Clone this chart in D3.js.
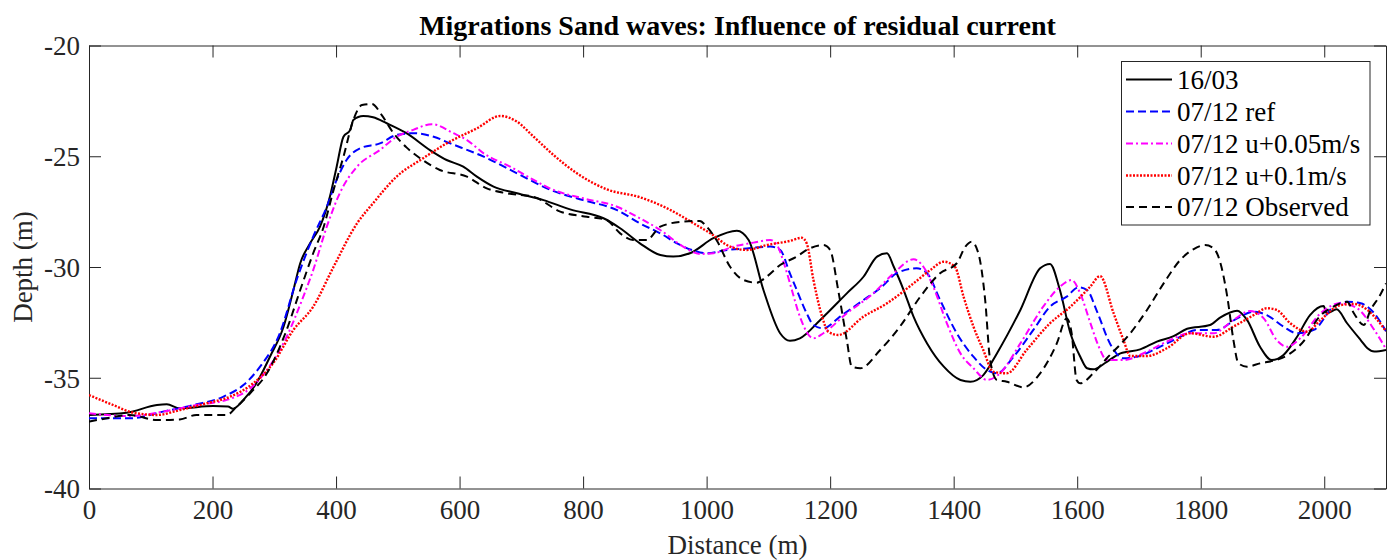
<!DOCTYPE html>
<html><head><meta charset="utf-8">
<script src="https://cdn.jsdelivr.net/npm/d3@7"></script>
<style>
html,body{margin:0;padding:0;background:#fff;}
svg text{font-family:"Liberation Serif","Times New Roman",serif;}
</style></head>
<body><svg id="chart" width="1392" height="560"></svg>
<script>
const titleText = "Migrations Sand waves: Influence of residual current";
const xTicks = [0,200,400,600,800,1000,1200,1400,1600,1800,2000];
const yTicks = [-40,-35,-30,-25,-20];
const seriesNames = ["16/03","07/12 ref","07/12 u+0.05m/s","07/12 u+0.1m/s","07/12 Observed"];

const dist1603 = [0,61,110,126,147,201,225,233,250,271,293,315,331,342,358,374,390,401,412,423,428,444,460,482,514,552,579,606,628,655,693,736,779,833,860,892,925,946,973,1011,1049,1068,1092,1119,1135,1151,1184,1227,1254,1276,1292,1303,1319,1335,1357,1384,1411,1427,1448,1470,1508,1540,1556,1572,1589,1605,1616,1626,1648,1670,1702,1729,1756,1778,1815,1832,1859,1875,1896,1915,1934,1956,1977,1999,2004,2020,2037,2059,2070,2081,2100];
const depth1603 = [-36.68,-36.58,-36.23,-36.2,-36.38,-36.28,-36.3,-36.4,-36.0,-35.25,-34.05,-32.7,-31.04,-29.83,-28.93,-28.18,-26.83,-25.47,-24.12,-23.81,-23.36,-23.18,-23.24,-23.51,-23.96,-24.72,-25.17,-25.47,-25.92,-26.37,-26.67,-26.98,-27.4,-27.8,-28.25,-28.93,-29.46,-29.53,-29.38,-28.7,-28.36,-28.78,-31.04,-32.99,-33.33,-33.22,-32.39,-31.19,-30.44,-29.53,-29.38,-29.99,-31.04,-32.24,-33.45,-34.5,-35.1,-35.18,-34.88,-33.9,-31.94,-30.06,-29.86,-31.04,-32.99,-34.05,-34.57,-34.62,-34.28,-33.9,-33.72,-33.37,-33.12,-32.79,-32.62,-32.27,-31.97,-32.39,-33.6,-34.2,-33.97,-33.15,-32.17,-31.76,-32.09,-31.91,-32.54,-33.3,-33.67,-33.82,-33.75];

const distRef = [0,66,120,169,217,250,277,309,336,363,385,401,417,439,471,498,525,558,585,639,693,747,800,855,892,925,952,979,1000,1033,1065,1103,1119,1135,1146,1162,1173,1189,1216,1254,1281,1308,1340,1357,1378,1405,1432,1454,1470,1497,1529,1556,1583,1602,1616,1632,1653,1675,1697,1729,1762,1794,1826,1859,1886,1907,1934,1956,1983,2015,2037,2059,2081,2100];
const depthRef = [-36.83,-36.83,-36.53,-36.23,-35.86,-35.33,-34.5,-32.99,-30.59,-28.63,-27.28,-26.07,-25.17,-24.64,-24.42,-24.04,-23.96,-24.12,-24.42,-25.02,-25.77,-26.52,-26.98,-27.43,-28.03,-28.48,-28.93,-29.26,-29.38,-29.23,-29.16,-29.08,-29.23,-30.3,-31.04,-32.09,-32.62,-32.77,-32.24,-31.49,-30.96,-30.28,-30.06,-30.28,-31.49,-32.99,-34.05,-34.65,-34.8,-34.05,-32.84,-31.79,-31.34,-30.92,-31.04,-32.0,-33.45,-34.12,-34.05,-33.67,-33.22,-32.84,-32.84,-32.32,-32.02,-32.17,-32.69,-32.99,-32.84,-31.79,-31.57,-31.64,-32.09,-32.9];

const distU005 = [0,66,120,174,223,261,288,320,347,363,385,406,434,471,498,525,555,590,612,639,682,720,752,800,855,892,925,962,989,1011,1043,1076,1103,1114,1127,1138,1151,1173,1189,1227,1270,1303,1335,1351,1367,1389,1411,1432,1454,1475,1508,1545,1572,1591,1605,1621,1635,1648,1675,1713,1745,1783,1821,1853,1880,1902,1923,1940,1961,1994,2026,2053,2081,2100];
const depthU005 = [-36.6,-36.73,-36.53,-36.23,-36.0,-35.48,-34.65,-33.15,-31.34,-30.14,-28.18,-26.67,-25.47,-24.72,-24.12,-23.81,-23.55,-23.96,-24.27,-24.87,-25.47,-26.07,-26.52,-26.9,-27.28,-27.8,-28.33,-29.08,-29.41,-29.38,-29.08,-28.9,-28.78,-29.01,-29.99,-31.04,-32.24,-33.22,-32.99,-32.09,-31.19,-30.28,-29.65,-29.99,-30.89,-32.54,-33.9,-34.57,-35.1,-34.8,-33.45,-31.79,-30.89,-30.59,-31.2,-32.5,-33.6,-34.2,-34.2,-33.82,-33.37,-32.99,-32.99,-32.39,-31.99,-32.32,-33.3,-33.6,-33.22,-32.09,-31.64,-31.86,-32.84,-33.7];

const distU01 = [0,39,72,110,147,191,228,266,298,331,363,396,434,460,498,541,579,628,666,693,720,752,790,838,892,936,979,1006,1038,1065,1097,1135,1154,1162,1173,1187,1197,1213,1254,1292,1335,1362,1384,1402,1416,1432,1448,1464,1486,1518,1556,1589,1621,1637,1659,1675,1686,1713,1745,1783,1821,1853,1886,1907,1923,1945,1972,1994,2026,2048,2070,2086,2100];
const depthU01 = [-35.78,-36.23,-36.58,-36.68,-36.46,-36.15,-35.86,-35.25,-34.35,-32.84,-31.79,-29.99,-28.03,-27.12,-25.92,-25.09,-24.42,-23.74,-23.18,-23.44,-24.12,-24.94,-25.77,-26.49,-26.85,-27.35,-28.03,-28.48,-29.08,-29.23,-29.01,-28.82,-28.68,-28.93,-30.59,-32.24,-32.92,-33.07,-32.24,-31.64,-30.74,-30.14,-29.76,-29.99,-31.34,-32.69,-33.75,-34.73,-34.8,-33.75,-32.54,-31.79,-30.89,-30.41,-32.09,-33.3,-34.02,-34.02,-33.67,-32.99,-33.15,-32.69,-32.17,-31.86,-31.94,-32.54,-32.92,-32.39,-31.72,-31.67,-31.94,-32.39,-32.9];

const distObs = [0,29,66,110,147,174,223,239,261,288,320,342,363,380,396,412,428,442,458,474,493,514,536,568,612,644,676,720,763,806,838,860,881,903,925,962,989,1000,1016,1038,1060,1081,1097,1119,1146,1162,1189,1200,1213,1227,1235,1249,1281,1313,1346,1378,1405,1419,1429,1440,1451,1459,1470,1486,1513,1540,1567,1583,1591,1599,1605,1626,1648,1686,1713,1740,1767,1788,1807,1821,1832,1843,1853,1861,1875,1896,1918,1945,1972,1988,2015,2037,2048,2064,2075,2089,2100];
const depthObs = [-36.98,-36.83,-36.68,-36.91,-36.88,-36.68,-36.68,-36.31,-35.7,-34.8,-32.84,-31.04,-29.38,-28.18,-26.52,-25.02,-23.36,-22.69,-22.64,-23.14,-23.96,-24.6,-25.09,-25.62,-25.92,-26.45,-26.67,-26.83,-27.5,-27.73,-27.88,-28.48,-28.78,-28.78,-28.18,-27.95,-27.92,-28.18,-28.78,-29.99,-30.59,-30.71,-30.44,-29.91,-29.53,-29.23,-29.01,-29.23,-31.04,-33.3,-34.5,-34.57,-33.75,-32.69,-31.34,-30.28,-29.83,-29.08,-28.86,-29.38,-31.49,-34.2,-35.1,-35.18,-35.43,-34.8,-33.45,-32.32,-32.99,-35.1,-35.25,-34.8,-34.12,-32.99,-31.94,-30.74,-29.68,-29.2,-29.01,-29.16,-29.83,-31.34,-33.3,-34.35,-34.5,-34.35,-34.23,-33.9,-33.15,-32.39,-31.79,-31.57,-32.09,-32.62,-31.94,-31.34,-30.74];

const seriesDist = [dist1603, distRef, distU005, distU01, distObs];
const seriesDepth = [depth1603, depthRef, depthU005, depthU01, depthObs];
const seriesColor = ["#000000","#0000ff","#ff00ff","#ff0000","#000000"];
const seriesDash = [null,"8,4","7,3,2,3","2,1.5","8,5"];
const seriesWidth = [2,2,2,2.4,2];

const FONT = "'Liberation Serif','Times New Roman',serif";
const svg = d3.select("#chart");
const L = 89, R = 1386, T = 45.5, B = 488.5;
const x = d3.scaleLinear().domain([0,2100]).range([L,R]);
const y = d3.scaleLinear().domain([-40,-20]).range([B,T]);
const axisColor = "#262626";

svg.append("defs").append("clipPath").attr("id","clip")
  .append("rect").attr("x",L).attr("y",T).attr("width",R-L).attr("height",B-T);

const tickLen = 12;
const fmt = d => String(d);
const gx = svg.append("g").attr("transform",`translate(0,${B})`)
  .call(d3.axisBottom(x).tickValues(xTicks).tickSizeInner(-tickLen).tickSizeOuter(0).tickPadding(10).tickFormat(fmt));
const gxt = svg.append("g").attr("transform",`translate(0,${T})`)
  .call(d3.axisTop(x).tickValues(xTicks).tickSizeInner(-tickLen).tickSizeOuter(0).tickFormat(""));
const gy = svg.append("g").attr("transform",`translate(${L},0)`)
  .call(d3.axisLeft(y).tickValues(yTicks).tickSizeInner(-tickLen).tickSizeOuter(0).tickPadding(9).tickFormat(fmt));
const gyr = svg.append("g").attr("transform",`translate(${R},0)`)
  .call(d3.axisRight(y).tickValues(yTicks).tickSizeInner(-tickLen).tickSizeOuter(0).tickFormat(""));

[gx,gxt,gy,gyr].forEach(g=>{
  g.attr("font-family",FONT).attr("font-size",27);
  g.select(".domain").attr("stroke",axisColor).attr("stroke-width",1);
  g.selectAll(".tick line").attr("stroke",axisColor).attr("stroke-width",1);
  g.selectAll(".tick text").attr("fill",axisColor).attr("font-family",FONT).attr("font-size",27);
});
gx.selectAll(".tick text").attr("dy","0.75em");
gy.selectAll(".tick text").attr("dy","0.35em");

const plot = svg.append("g").attr("clip-path","url(#clip)");
for (let s = 0; s < seriesNames.length; s++) {
  const pts = seriesDist[s].map((d,i)=>[d, seriesDepth[s][i]]);
  const line = d3.line().x(d=>x(d[0])).y(d=>y(d[1])).curve(d3.curveMonotoneX);
  plot.append("path").datum(pts)
    .attr("d",line).attr("fill","none")
    .attr("stroke",seriesColor[s]).attr("stroke-width",seriesWidth[s])
    .attr("stroke-dasharray",seriesDash[s]);
}

svg.append("text").attr("x",(L+R)/2).attr("y",35).attr("text-anchor","middle")
  .attr("font-family",FONT).attr("font-size",28).attr("font-weight","bold").attr("fill","#000").text(titleText);
svg.append("text").attr("x",(L+R)/2).attr("y",554).attr("text-anchor","middle")
  .attr("font-family",FONT).attr("font-size",27).attr("fill",axisColor).text("Distance (m)");
svg.append("text").attr("transform",`translate(32,${(T+B)/2}) rotate(-90)`).attr("text-anchor","middle")
  .attr("font-family",FONT).attr("font-size",27).attr("fill",axisColor).text("Depth (m)");

const lg = svg.append("g");
lg.append("rect").attr("x",1121.5).attr("y",61.5).attr("width",248.5).attr("height",163.5)
  .attr("fill","#fff").attr("stroke",axisColor).attr("stroke-width",1);
const rowY = [79.5,111.5,143.5,175.5,207];
seriesNames.forEach((n,i)=>{
  lg.append("line").attr("x1",1126).attr("x2",1172).attr("y1",rowY[i]).attr("y2",rowY[i])
    .attr("stroke",seriesColor[i]).attr("stroke-width",seriesWidth[i]).attr("stroke-dasharray",seriesDash[i]);
  lg.append("text").attr("x",1177).attr("y",rowY[i]).attr("dy","0.35em")
    .attr("font-family",FONT).attr("font-size",27).attr("fill","#000").text(n);
});
</script></body></html>
